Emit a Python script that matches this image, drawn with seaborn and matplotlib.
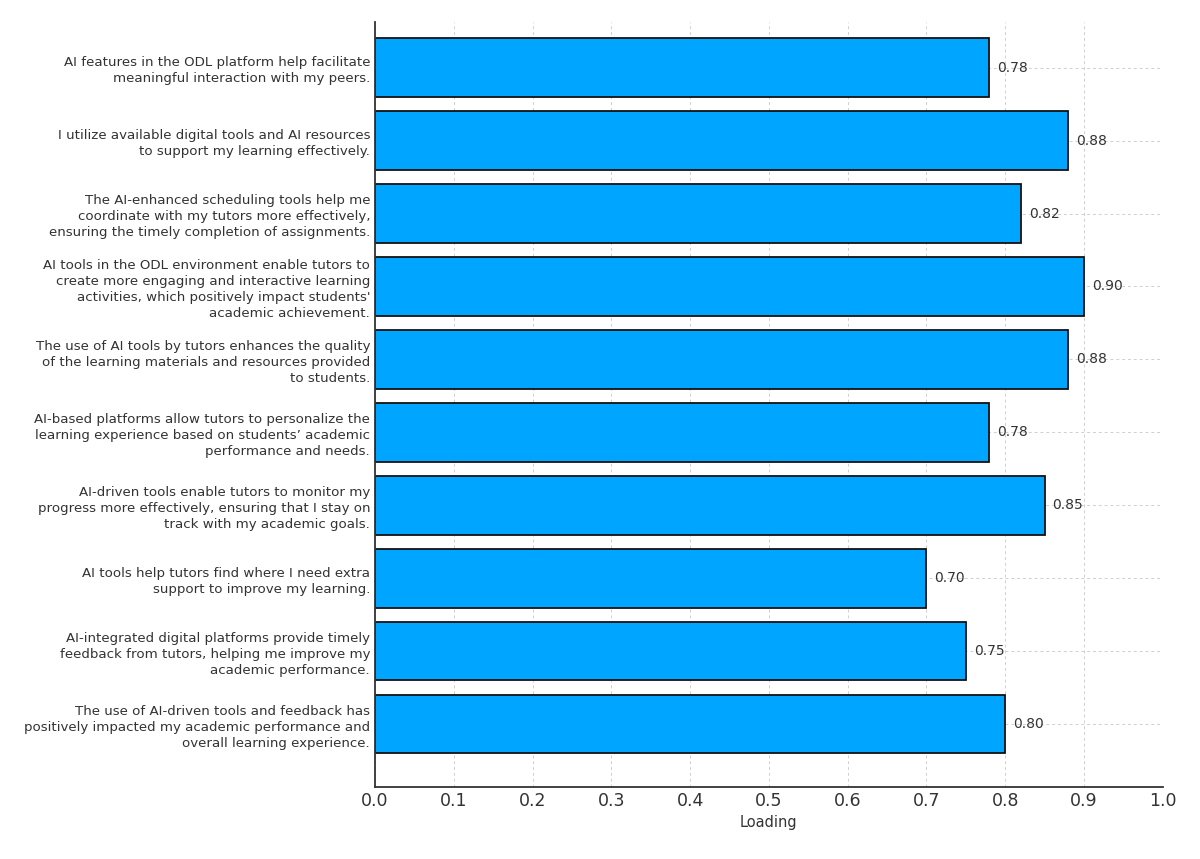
import matplotlib
matplotlib.use("Agg")
import matplotlib.pyplot as plt
import seaborn as sns
import pandas as pd

items = [
    "AI features in the ODL platform help facilitate\nmeaningful interaction with my peers.",
    "I utilize available digital tools and AI resources\nto support my learning effectively.",
    "The AI-enhanced scheduling tools help me\ncoordinate with my tutors more effectively,\nensuring the timely completion of assignments.",
    "AI tools in the ODL environment enable tutors to\ncreate more engaging and interactive learning\nactivities, which positively impact students'\nacademic achievement.",
    "The use of AI tools by tutors enhances the quality\nof the learning materials and resources provided\nto students.",
    "AI-based platforms allow tutors to personalize the\nlearning experience based on students\u2019 academic\nperformance and needs.",
    "AI-driven tools enable tutors to monitor my\nprogress more effectively, ensuring that I stay on\ntrack with my academic goals.",
    "AI tools help tutors find where I need extra\nsupport to improve my learning.",
    "AI-integrated digital platforms provide timely\nfeedback from tutors, helping me improve my\nacademic performance.",
    "The use of AI-driven tools and feedback has\npositively impacted my academic performance and\noverall learning experience.",
]
loadings = [0.78, 0.88, 0.82, 0.90, 0.88, 0.78, 0.85, 0.70, 0.75, 0.80]
x_ticks = [0.0, 0.1, 0.2, 0.3, 0.4, 0.5, 0.6, 0.7, 0.8, 0.9, 1.0]

df = pd.DataFrame({"item": items, "loading": loadings})

sns.set_style("white")
plt.rcParams["font.family"] = ["DejaVu Sans"]
text_col = "#333333"

fig = plt.figure(figsize=(12, 8.59), dpi=100)
ax = fig.add_axes([0.3125, 0.0838, 0.969 - 0.3125, 0.974 - 0.0838])

sns.barplot(data=df, x="loading", y="item", color="#00A5FF", saturation=1,
            edgecolor="#111111", linewidth=1.3, width=0.8, ax=ax, zorder=2)

for i, v in enumerate(loadings):
    ax.text(v + 0.01, i, f"{v:.2f}", va="center", ha="left", fontsize=10,
            color=text_col, zorder=3)

ax.set_xlim(0, 1.0)
ax.set_ylim(9.86, -0.62)
ax.set_xticks(x_ticks)
ax.set_xticklabels([f"{t:.1f}" for t in x_ticks], fontsize=12.5, color=text_col)
ax.tick_params(axis="y", labelsize=9.6, labelcolor=text_col, direction="in",
               length=4, color=text_col)
ax.tick_params(axis="x", direction="in", length=5, color=text_col)
for lab in ax.get_yticklabels():
    lab.set_linespacing(1.3)
ax.set_ylabel("")
ax.set_xlabel("Loading", fontsize=10.5, color=text_col)

ax.grid(True, axis="both", linestyle=(0, (3, 3)), color="#cfcfcf", linewidth=0.7, zorder=0)
ax.set_axisbelow(True)
for s in ["top", "right"]:
    ax.spines[s].set_visible(False)
for s in ["left", "bottom"]:
    ax.spines[s].set_color(text_col)
    ax.spines[s].set_linewidth(1.3)

fig.savefig("out.png", dpi=100)
